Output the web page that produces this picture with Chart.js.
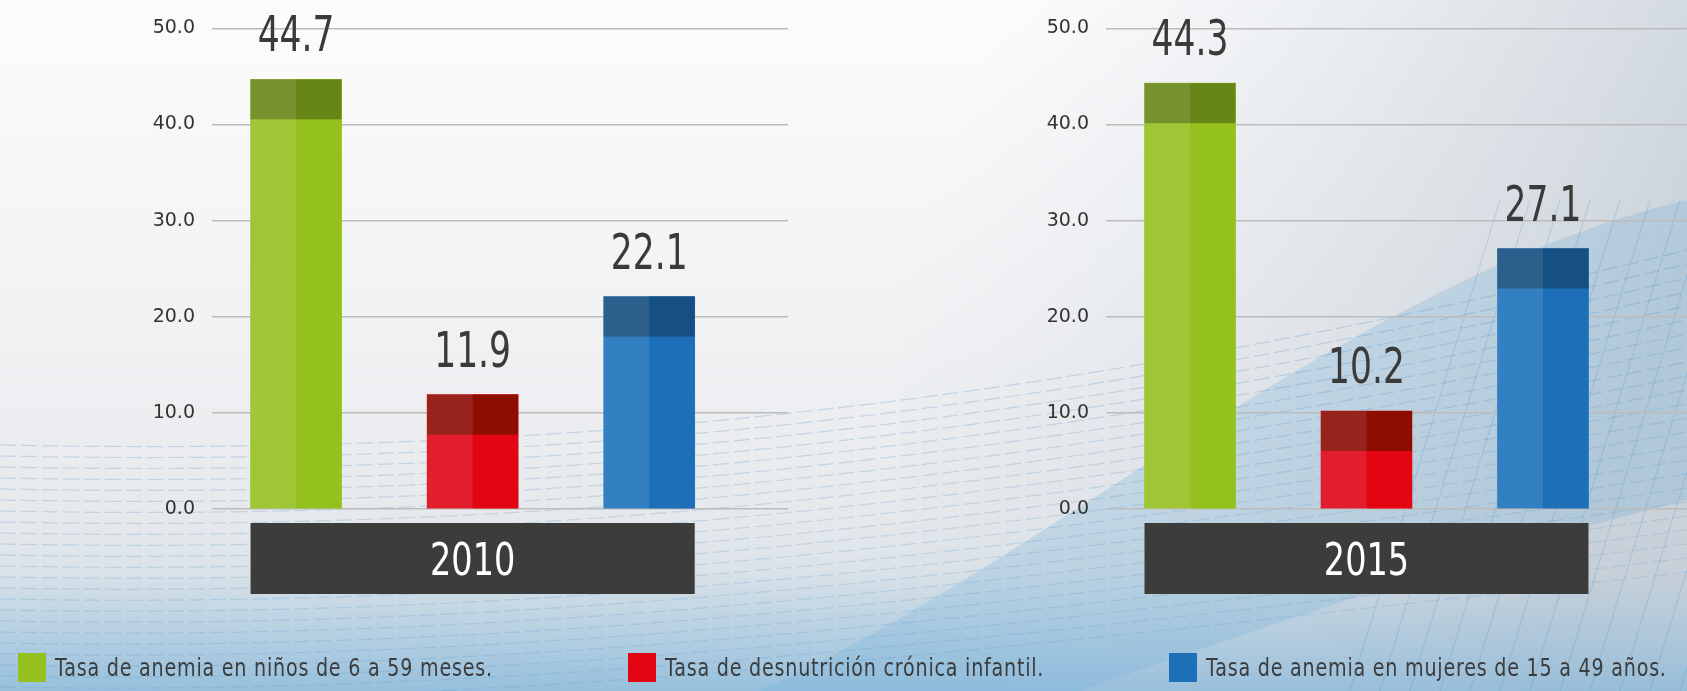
<!DOCTYPE html>
<html lang="es">
<head>
<meta charset="utf-8">
<title>Anemia y desnutrición 2010 - 2015</title>
<script src="https://cdn.jsdelivr.net/npm/chart.js@4.4.1/dist/chart.umd.min.js"></script>
<style>
  html, body { margin: 0; padding: 0; }
  body {
    width: 1687px; height: 691px; position: relative; overflow: hidden;
    font-family: 'DejaVu Sans', sans-serif;
  }
  #bg { position: absolute; left: 0; top: 0; }
  .chartBox { position: absolute; top: 0; }
  #chart2010 { left: 100px; }
  #chart2015 { left: 990px; }
  .legend { position: absolute; top: 653px; height: 29px; display: flex; align-items: center; }
  .swatch { width: 28px; height: 29px; margin-right: 9px; flex: none; }
  .legend span {
    display: inline-block; font-size: 25px; letter-spacing: 1px; color: #3c3c3c;
    white-space: nowrap; transform: scaleX(0.765); transform-origin: left center;
  }
</style>
</head>
<body>
<canvas id="bg" width="1687" height="691"></canvas>
<canvas id="chart2010" class="chartBox" width="688" height="610"></canvas>
<canvas id="chart2015" class="chartBox" width="697" height="610"></canvas>
<div id="legendRow"></div>

<script>
const categories = [
  "Tasa de anemia en niños de 6 a 59 meses.",
  "Tasa de desnutrición crónica infantil.",
  "Tasa de anemia en mujeres de 15 a 49 años."
];
const years = ["2010", "2015"];
const values2010 = [44.7, 11.9, 22.1];
const values2015 = [44.3, 10.2, 27.1];
const yTicks = [0, 10, 20, 30, 40, 50];

// bar shades: left half, right half, top cap left, top cap right
const barLeft = ["#9fc735", "#e31e2c", "#327fc1"];
const barRight = ["#95c11f", "#e20613", "#1d70b7"];
const capLeft = ["#76912e", "#96241d", "#2c5f8b"];
const capRight = ["#678618", "#8b0e00", "#164f81"];
const legendLeft = [18, 628, 1169];

const FONT = "'DejaVu Sans', sans-serif";
const CAP = 40;

// background
const bg = document.getElementById("bg").getContext("2d");
let g = bg.createLinearGradient(0, 0, 0, 691);
g.addColorStop(0, "#fcfcfd");
g.addColorStop(0.5, "#f0f1f3");
g.addColorStop(0.75, "#e6e9ec");
g.addColorStop(1, "#c2d4e0");
bg.fillStyle = g;
bg.fillRect(0, 0, 1687, 691);

let g2 = bg.createLinearGradient(1000, 0, 1687, 250);
g2.addColorStop(0, "rgba(215,222,228,0)");
g2.addColorStop(1, "rgba(196,205,214,0.85)");
bg.fillStyle = g2;
bg.fillRect(900, 0, 787, 691);

bg.fillStyle = "rgba(110,172,215,0.26)";
bg.beginPath();
bg.moveTo(760, 691);
bg.bezierCurveTo(1050, 560, 1350, 280, 1687, 200);
bg.lineTo(1687, 500);
bg.bezierCurveTo(1450, 560, 1200, 650, 1080, 691);
bg.closePath();
bg.fill();

let g3 = bg.createLinearGradient(0, 570, 0, 691);
g3.addColorStop(0, "rgba(130,185,222,0)");
g3.addColorStop(1, "rgba(115,175,218,0.55)");
bg.fillStyle = g3;
bg.fillRect(0, 570, 1687, 121);

bg.lineWidth = 1.2;
bg.setLineDash([16, 5]);
for (let i = 0; i < 24; i++) {
  bg.strokeStyle = "rgba(70,140,200," + (0.26 - i * 0.004) + ")";
  bg.beginPath();
  bg.moveTo(0, 445 + i * 11);
  bg.bezierCurveTo(500, 455 + i * 11, 1000, 420 + i * 10, 1687, 250 + i * 14);
  bg.stroke();
}
bg.setLineDash([]);
bg.strokeStyle = "rgba(60,140,200,0.2)";
for (let i = 0; i < 14; i++) {
  bg.beginPath();
  bg.moveTo(1350 + i * 30, 691);
  bg.lineTo(1500 + i * 30, 200);
  bg.stroke();
}

function squeezedText(ctx, text, x, y, sx) {
  ctx.save();
  ctx.translate(x, y);
  ctx.scale(sx, 1);
  ctx.fillText(text, 0, 0);
  ctx.restore();
}

const barDecor = {
  id: "barDecor",
  afterDatasetsDraw(chart, args, opts) {
    const ctx = chart.ctx;
    const meta = chart.getDatasetMeta(0);
    const data = chart.data.datasets[0].data;
    ctx.save();
    meta.data.forEach((bar, i) => {
      const { x, y, base, width } = bar.getProps(["x", "y", "base", "width"], true);
      const half = width / 2;
      ctx.fillStyle = barRight[i];
      ctx.fillRect(x, y, half, base - y);
      ctx.fillStyle = capLeft[i];
      ctx.fillRect(x - half, y, half, CAP);
      ctx.fillStyle = capRight[i];
      ctx.fillRect(x, y, half, CAP);
      ctx.fillStyle = "#3a3a3a";
      ctx.font = "50px " + FONT;
      ctx.textAlign = "center";
      ctx.textBaseline = "alphabetic";
      squeezedText(ctx, data[i].y.toFixed(1), x, y - 28, 0.69);
    });
    const first = meta.data[0];
    const last = meta.data[meta.data.length - 1];
    const x0 = first.x - first.width / 2;
    const x1 = last.x + last.width / 2;
    const top = chart.chartArea.bottom + 14;
    ctx.fillStyle = "#3c3c3b";
    ctx.fillRect(x0, top, x1 - x0, 71);
    ctx.fillStyle = "#ffffff";
    ctx.font = "45px " + FONT;
    ctx.textAlign = "center";
    ctx.textBaseline = "middle";
    squeezedText(ctx, opts.year, (x0 + x1) / 2, top + 40, 0.745);
    ctx.restore();
  }
};

function makeChart(id, year, values, xMax, axisWidth) {
  return new Chart(document.getElementById(id), {
    type: "bar",
    data: {
      labels: categories,
      datasets: [{
        label: year,
        data: values.map((v, i) => ({ x: i, y: v })),
        backgroundColor: barLeft,
        borderWidth: 0,
        barThickness: 91
      }]
    },
    options: {
      responsive: false,
      animation: false,
      layout: { padding: { top: 28, bottom: 101, left: 0, right: 0 } },
      plugins: {
        legend: { display: false },
        tooltip: { enabled: false },
        barDecor: { year: year }
      },
      scales: {
        x: { type: "linear", min: -0.476, max: xMax, display: false, offset: false },
        y: {
          min: 0,
          max: 50,
          afterBuildTicks: s => { s.ticks = yTicks.map(v => ({ value: v })); },
          afterFit: s => { s.width = axisWidth; },
          ticks: {
            padding: 17,
            color: "#333333",
            font: { family: FONT, size: 19 },
            callback: v => Number(v).toFixed(1)
          },
          grid: { color: "#bcbcbc", lineWidth: 1.5, drawTicks: false },
          border: { display: false }
        }
      }
    },
    plugins: [barDecor]
  });
}

makeChart("chart2010", years[0], values2010, 2.786, 112);
makeChart("chart2015", years[1], values2015, 2.816, 116);

const legendRow = document.getElementById("legendRow");
categories.forEach((c, i) => {
  legendRow.innerHTML += `
    <div class="legend" style="left:${legendLeft[i]}px">
      <div class="swatch" style="background:${barRight[i]}"></div>
      <span>${c}</span>
    </div>`;
});
</script>
</body>
</html>
